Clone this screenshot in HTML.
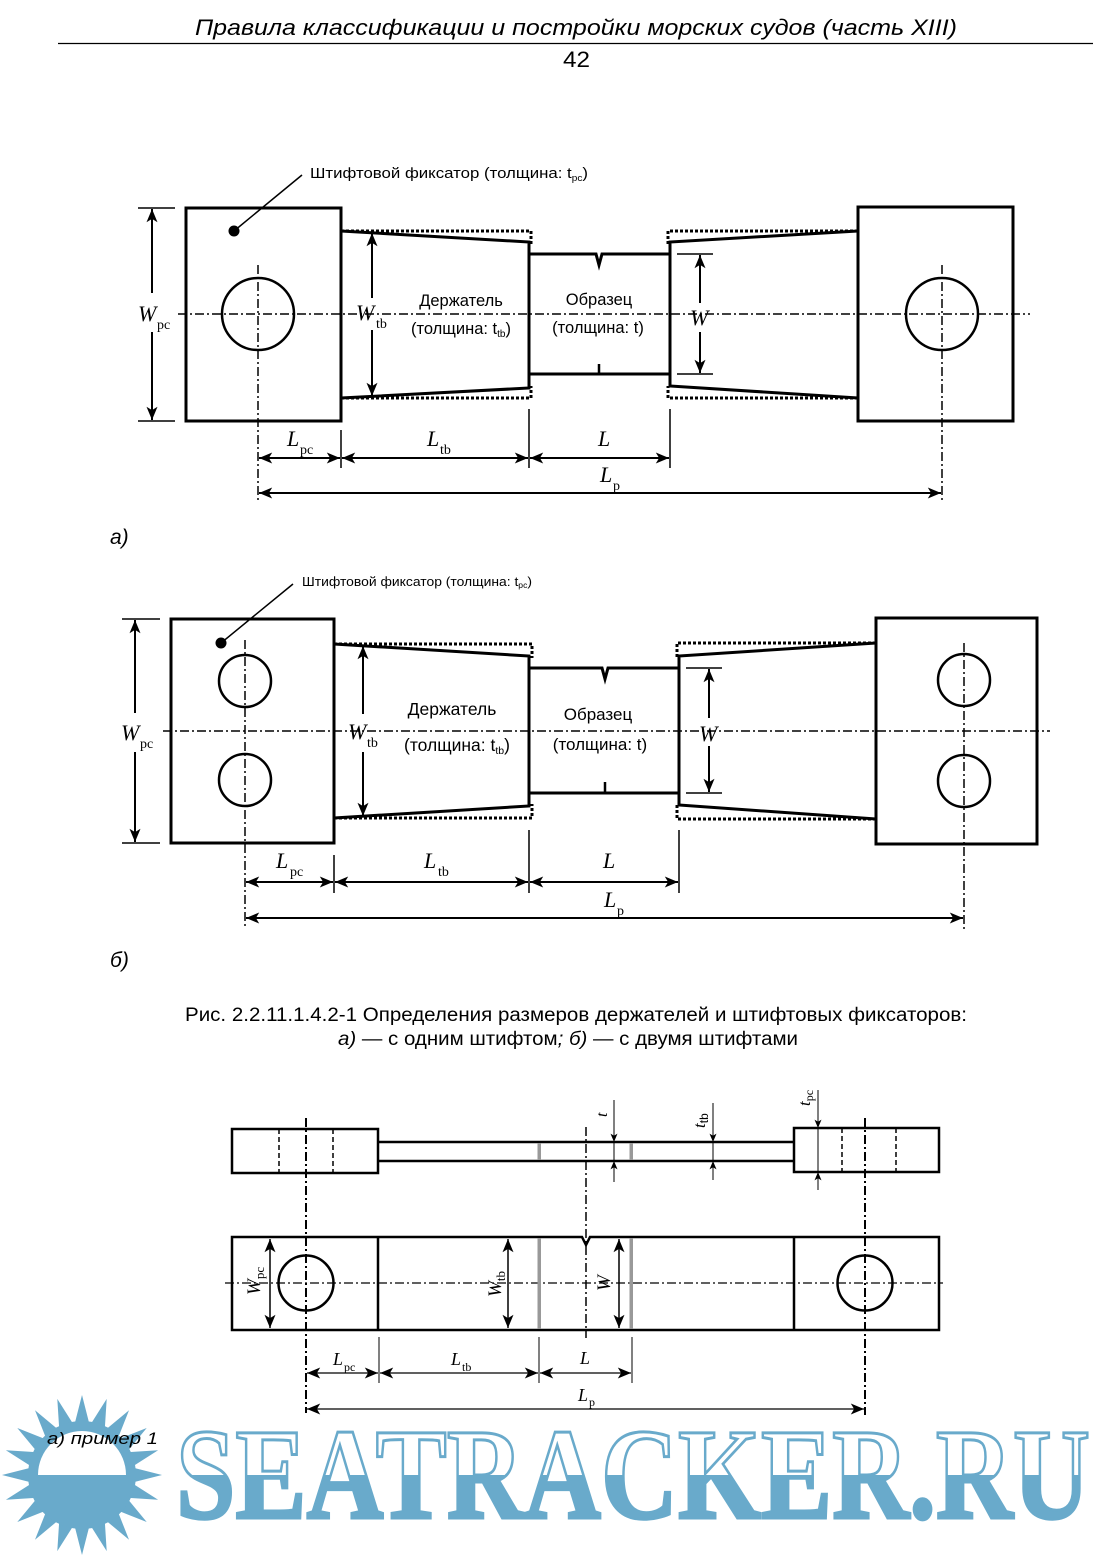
<!DOCTYPE html>
<html><head><meta charset="utf-8"><style>
html,body{margin:0;padding:0;background:#fff}
svg{display:block}
.s{font-family:"Liberation Sans","Noto Sans CJK SC",sans-serif}
.m{font-family:"Liberation Serif","Noto Serif CJK SC",serif;font-style:italic}
.r{font-family:"Liberation Serif","Noto Serif CJK SC",serif;font-style:normal}
</style></head><body>
<svg width="1108" height="1556" viewBox="0 0 1108 1556" xmlns="http://www.w3.org/2000/svg">
<defs>
<marker id="a" viewBox="0 0 12 10" refX="12" refY="5" markerWidth="14" markerHeight="11" markerUnits="userSpaceOnUse" orient="auto-start-reverse"><path d="M0,0 L12,5 L0,10 L3,5 Z" fill="#000"/></marker>
<marker id="b" viewBox="0 0 12 10" refX="12" refY="5" markerWidth="9" markerHeight="7" markerUnits="userSpaceOnUse" orient="auto-start-reverse"><path d="M0,0 L12,5 L0,10 L3,5 Z" fill="#000"/></marker>
<linearGradient id="wg" gradientUnits="userSpaceOnUse" x1="0" y1="1432" x2="0" y2="1518"><stop offset="0.5" stop-color="#fff"/><stop offset="0.5" stop-color="#69aacb"/></linearGradient>
</defs>
<rect width="1108" height="1556" fill="#fff"/>

<!-- header -->
<text class="s" x="195" y="35" font-size="22" font-style="italic" textLength="762" lengthAdjust="spacingAndGlyphs">Правила классификации и постройки морских судов (часть XIII)</text>
<line x1="58" y1="43.5" x2="1093" y2="43.5" stroke="#000" stroke-width="1.2"/>
<text class="s" x="563" y="67" font-size="22" textLength="27" lengthAdjust="spacingAndGlyphs">42</text>

<!-- ============ Diagram a ============ -->
<g fill="none" stroke="#000">
<line x1="178" y1="314" x2="1030" y2="314" stroke-width="1.5" stroke-dasharray="9 3 2 3"/>
<line x1="258" y1="265" x2="258" y2="502" stroke-width="1.5" stroke-dasharray="9 3 2 3"/>
<line x1="942" y1="265" x2="942" y2="502" stroke-width="1.5" stroke-dasharray="9 3 2 3"/>
<rect x="186" y="208" width="155" height="213" stroke-width="3"/>
<circle cx="258" cy="314" r="36" stroke-width="2.5"/>
<line x1="234" y1="231" x2="302" y2="175" stroke-width="1.5"/>
<polyline points="341,231 529,242 529,388 341,398" stroke-width="3"/>
<polyline points="341,231 531,231 531,244" stroke-width="3" stroke-dasharray="3 2"/>
<polyline points="341,398 531,398 531,386" stroke-width="3" stroke-dasharray="3 2"/>
<polyline points="529,254 596,254 599,265 602,254 670,254" stroke-width="3"/>
<line x1="529" y1="374" x2="670" y2="374" stroke-width="3"/>
<line x1="599" y1="364" x2="599" y2="374" stroke-width="2.5"/>
<polyline points="858,231 670,242 670,386 858,398" stroke-width="3"/>
<polyline points="858,231 668,231 668,244" stroke-width="3" stroke-dasharray="3 2"/>
<polyline points="858,398 668,398 668,386" stroke-width="3" stroke-dasharray="3 2"/>
<rect x="858" y="207" width="155" height="214" stroke-width="3"/>
<circle cx="942" cy="314" r="36" stroke-width="2.5"/>
<!-- W_pc -->
<line x1="138" y1="208" x2="175" y2="208" stroke-width="1.5"/>
<line x1="138" y1="421" x2="175" y2="421" stroke-width="1.5"/>
<line x1="152" y1="293" x2="152" y2="209" stroke-width="2" marker-end="url(#a)"/>
<line x1="152" y1="332" x2="152" y2="420" stroke-width="2" marker-end="url(#a)"/>
<!-- W_tb -->
<line x1="372" y1="298" x2="372" y2="233" stroke-width="2" marker-end="url(#a)"/>
<line x1="372" y1="330" x2="372" y2="396" stroke-width="2" marker-end="url(#a)"/>
<!-- W -->
<line x1="677" y1="254" x2="713" y2="254" stroke-width="1.5"/>
<line x1="677" y1="374" x2="713" y2="374" stroke-width="1.5"/>
<line x1="700" y1="303" x2="700" y2="255" stroke-width="2" marker-end="url(#a)"/>
<line x1="700" y1="332" x2="700" y2="373" stroke-width="2" marker-end="url(#a)"/>
<!-- bottom dims -->
<line x1="341" y1="430" x2="341" y2="468" stroke-width="1.5"/>
<line x1="529" y1="409" x2="529" y2="468" stroke-width="1.5"/>
<line x1="670" y1="409" x2="670" y2="468" stroke-width="1.5"/>
<line x1="259" y1="458" x2="340" y2="458" stroke-width="2" marker-start="url(#a)" marker-end="url(#a)"/>
<line x1="342" y1="458" x2="528" y2="458" stroke-width="2" marker-start="url(#a)" marker-end="url(#a)"/>
<line x1="530" y1="458" x2="669" y2="458" stroke-width="2" marker-start="url(#a)" marker-end="url(#a)"/>
<line x1="259" y1="493" x2="941" y2="493" stroke-width="2" marker-start="url(#a)" marker-end="url(#a)"/>
</g>
<circle cx="234" cy="231" r="5.5" fill="#000"/>
<text class="s" x="310" y="178" font-size="15" textLength="278" lengthAdjust="spacingAndGlyphs">Штифтовой фиксатор (толщина: t<tspan font-size="9" dy="3">pc</tspan><tspan dy="-3">)</tspan></text>
<text class="s" x="461" y="306" font-size="16.5" text-anchor="middle">Держатель</text>
<text class="s" x="461" y="334" font-size="16.5" text-anchor="middle">(толщина: t<tspan font-size="10" dy="3">tb</tspan><tspan dy="-3">)</tspan></text>
<text class="s" x="599" y="305" font-size="16.5" text-anchor="middle">Образец</text>
<text class="s" x="598" y="333" font-size="16.5" text-anchor="middle">(толщина: t)</text>
<text class="m" x="138" y="321" font-size="22">W</text><text class="r" x="157" y="329" font-size="14">pc</text>
<text class="m" x="356" y="320" font-size="22">W</text><text class="r" x="376" y="328" font-size="14">tb</text>
<text class="m" x="690" y="325" font-size="22">W</text>
<text class="m" x="287" y="446" font-size="22">L</text><text class="r" x="300" y="454" font-size="14">pc</text>
<text class="m" x="427" y="446" font-size="22">L</text><text class="r" x="440" y="454" font-size="14">tb</text>
<text class="m" x="598" y="446" font-size="22">L</text>
<text class="m" x="600" y="482" font-size="22">L</text><text class="r" x="613" y="490" font-size="14">p</text>
<text class="s" x="110" y="544" font-size="21" font-style="italic">а)</text>

<!-- ============ Diagram b ============ -->
<g fill="none" stroke="#000">
<line x1="163" y1="731" x2="1050" y2="731" stroke-width="1.5" stroke-dasharray="9 3 2 3"/>
<line x1="245" y1="640" x2="245" y2="928" stroke-width="1.5" stroke-dasharray="9 3 2 3"/>
<line x1="964" y1="643" x2="964" y2="930" stroke-width="1.5" stroke-dasharray="9 3 2 3"/>
<rect x="171" y="619" width="163" height="224" stroke-width="3"/>
<circle cx="245" cy="681" r="26" stroke-width="2.5"/>
<circle cx="245" cy="780" r="26" stroke-width="2.5"/>
<line x1="221" y1="643" x2="293" y2="584" stroke-width="1.5"/>
<polyline points="334,644 529,656 529,806 334,818" stroke-width="3"/>
<polyline points="334,644 532,644 532,658" stroke-width="3" stroke-dasharray="3 2"/>
<polyline points="334,818 532,818 532,804" stroke-width="3" stroke-dasharray="3 2"/>
<polyline points="529,668 602,668 605,679 608,668 679,668" stroke-width="3"/>
<line x1="529" y1="793" x2="679" y2="793" stroke-width="3"/>
<line x1="605" y1="782" x2="605" y2="793" stroke-width="2.5"/>
<polyline points="876,643 679,656 679,805 876,819" stroke-width="3"/>
<polyline points="876,643 677,643 677,658" stroke-width="3" stroke-dasharray="3 2"/>
<polyline points="876,819 677,819 677,804" stroke-width="3" stroke-dasharray="3 2"/>
<rect x="876" y="618" width="161" height="226" stroke-width="3"/>
<circle cx="964" cy="680" r="26" stroke-width="2.5"/>
<circle cx="964" cy="781" r="26" stroke-width="2.5"/>
<!-- W_pc -->
<line x1="122" y1="619" x2="160" y2="619" stroke-width="1.5"/>
<line x1="122" y1="843" x2="160" y2="843" stroke-width="1.5"/>
<line x1="135" y1="713" x2="135" y2="620" stroke-width="2" marker-end="url(#a)"/>
<line x1="135" y1="752" x2="135" y2="842" stroke-width="2" marker-end="url(#a)"/>
<!-- W_tb -->
<line x1="363" y1="714" x2="363" y2="646" stroke-width="2" marker-end="url(#a)"/>
<line x1="363" y1="752" x2="363" y2="816" stroke-width="2" marker-end="url(#a)"/>
<!-- W -->
<line x1="686" y1="668" x2="722" y2="668" stroke-width="1.5"/>
<line x1="686" y1="793" x2="722" y2="793" stroke-width="1.5"/>
<line x1="709" y1="718" x2="709" y2="669" stroke-width="2" marker-end="url(#a)"/>
<line x1="709" y1="746" x2="709" y2="792" stroke-width="2" marker-end="url(#a)"/>
<!-- bottom dims -->
<line x1="334" y1="855" x2="334" y2="893" stroke-width="1.5"/>
<line x1="529" y1="830" x2="529" y2="893" stroke-width="1.5"/>
<line x1="679" y1="830" x2="679" y2="893" stroke-width="1.5"/>
<line x1="246" y1="882" x2="333" y2="882" stroke-width="2" marker-start="url(#a)" marker-end="url(#a)"/>
<line x1="335" y1="882" x2="528" y2="882" stroke-width="2" marker-start="url(#a)" marker-end="url(#a)"/>
<line x1="530" y1="882" x2="678" y2="882" stroke-width="2" marker-start="url(#a)" marker-end="url(#a)"/>
<line x1="246" y1="918" x2="963" y2="918" stroke-width="2" marker-start="url(#a)" marker-end="url(#a)"/>
</g>
<circle cx="221" cy="643" r="5.5" fill="#000"/>
<text class="s" x="302" y="586" font-size="13" textLength="230" lengthAdjust="spacingAndGlyphs">Штифтовой фиксатор (толщина: t<tspan font-size="8" dy="2">pc</tspan><tspan dy="-2">)</tspan></text>
<text class="s" x="452" y="715" font-size="17.5" text-anchor="middle">Держатель</text>
<text class="s" x="457" y="751" font-size="17.5" text-anchor="middle">(толщина: t<tspan font-size="10.5" dy="3">tb</tspan><tspan dy="-3">)</tspan></text>
<text class="s" x="598" y="720" font-size="17" text-anchor="middle">Образец</text>
<text class="s" x="600" y="750" font-size="17" text-anchor="middle">(толщина: t)</text>
<text class="m" x="121" y="740" font-size="22">W</text><text class="r" x="140" y="748" font-size="14">pc</text>
<text class="m" x="348" y="739" font-size="22">W</text><text class="r" x="367" y="747" font-size="14">tb</text>
<text class="m" x="699" y="741" font-size="22">W</text>
<text class="m" x="276" y="868" font-size="22">L</text><text class="r" x="290" y="876" font-size="14">pc</text>
<text class="m" x="424" y="868" font-size="22">L</text><text class="r" x="438" y="876" font-size="14">tb</text>
<text class="m" x="603" y="868" font-size="22">L</text>
<text class="m" x="604" y="907" font-size="22">L</text><text class="r" x="617" y="915" font-size="14">p</text>
<text class="s" x="110" y="967" font-size="21" font-style="italic">б)</text>

<!-- caption -->
<text class="s" x="185" y="1021" font-size="19" textLength="782" lengthAdjust="spacingAndGlyphs">Рис. 2.2.11.1.4.2-1 Определения размеров держателей и штифтовых фиксаторов:</text>
<text class="s" x="338" y="1045" font-size="19" textLength="460" lengthAdjust="spacingAndGlyphs"><tspan font-style="italic">а)</tspan> — с одним штифтом<tspan font-style="italic">;</tspan> <tspan font-style="italic">б)</tspan> — с двумя штифтами</text>

<!-- ============ Diagram c ============ -->
<g fill="none" stroke="#000">
<!-- top view -->
<rect x="232" y="1129" width="146" height="44" stroke-width="2.5"/>
<line x1="279" y1="1129" x2="279" y2="1173" stroke-width="1.5" stroke-dasharray="5 3"/>
<line x1="333" y1="1129" x2="333" y2="1173" stroke-width="1.5" stroke-dasharray="5 3"/>
<line x1="378" y1="1142" x2="794" y2="1142" stroke-width="2.5"/>
<line x1="378" y1="1161" x2="794" y2="1161" stroke-width="2.5"/>
<rect x="794" y="1128" width="145" height="44" stroke-width="2.5"/>
<line x1="842" y1="1128" x2="842" y2="1172" stroke-width="1.5" stroke-dasharray="5 3"/>
<line x1="896" y1="1128" x2="896" y2="1172" stroke-width="1.5" stroke-dasharray="5 3"/>
<line x1="306" y1="1118" x2="306" y2="1413" stroke-width="2" stroke-dasharray="9 3 2 3"/>
<line x1="865" y1="1118" x2="865" y2="1415" stroke-width="2" stroke-dasharray="9 3 2 3"/>
<line x1="586" y1="1127" x2="586" y2="1338" stroke-width="1.5" stroke-dasharray="9 3 2 3"/>
<!-- t dims -->
<line x1="614" y1="1100" x2="614" y2="1182" stroke-width="1"/>
<line x1="614" y1="1120" x2="614" y2="1142" stroke-width="1" marker-end="url(#b)"/>
<line x1="614" y1="1175" x2="614" y2="1161" stroke-width="1" marker-end="url(#b)"/>
<line x1="713" y1="1103" x2="713" y2="1180" stroke-width="1"/>
<line x1="713" y1="1120" x2="713" y2="1142" stroke-width="1" marker-end="url(#b)"/>
<line x1="713" y1="1175" x2="713" y2="1161" stroke-width="1" marker-end="url(#b)"/>
<line x1="818" y1="1090" x2="818" y2="1190" stroke-width="1"/>
<line x1="818" y1="1108" x2="818" y2="1128" stroke-width="1" marker-end="url(#b)"/>
<line x1="818" y1="1186" x2="818" y2="1172" stroke-width="1" marker-end="url(#b)"/>
<!-- bottom view -->
<path d="M232,1237 H582 L586,1245 L590,1237 H939 V1330 H232 Z" stroke-width="2.5"/>
<line x1="378" y1="1237" x2="378" y2="1330" stroke-width="2.5"/>
<line x1="794" y1="1237" x2="794" y2="1330" stroke-width="2.5"/>
<line x1="225" y1="1283" x2="943" y2="1283" stroke-width="1.2" stroke-dasharray="9 3 2 3"/>
<circle cx="306" cy="1283" r="27.5" stroke-width="2.5"/>
<circle cx="865" cy="1283" r="27.5" stroke-width="2.5"/>
<line x1="270" y1="1239" x2="270" y2="1328" stroke-width="1.5" marker-start="url(#a)" marker-end="url(#a)"/>
<line x1="508" y1="1239" x2="508" y2="1328" stroke-width="1.5" marker-start="url(#a)" marker-end="url(#a)"/>
<line x1="619" y1="1239" x2="619" y2="1328" stroke-width="1.5" marker-start="url(#a)" marker-end="url(#a)"/>
<!-- dims -->
<line x1="379" y1="1337" x2="379" y2="1383" stroke-width="1"/>
<line x1="539" y1="1337" x2="539" y2="1383" stroke-width="1"/>
<line x1="632" y1="1337" x2="632" y2="1383" stroke-width="1"/>
<line x1="307" y1="1373" x2="378" y2="1373" stroke-width="1.2" marker-start="url(#a)" marker-end="url(#a)"/>
<line x1="380" y1="1373" x2="538" y2="1373" stroke-width="1.2" marker-start="url(#a)" marker-end="url(#a)"/>
<line x1="540" y1="1373" x2="631" y2="1373" stroke-width="1.2" marker-start="url(#a)" marker-end="url(#a)"/>
<line x1="307" y1="1409" x2="864" y2="1409" stroke-width="1.2" marker-start="url(#a)" marker-end="url(#a)"/>
</g>
<rect x="537.5" y="1143" width="3.5" height="17" fill="#999"/>
<rect x="629.5" y="1143" width="3.5" height="17" fill="#999"/>
<rect x="537.5" y="1238" width="3.5" height="91" fill="#999"/>
<rect x="629.5" y="1238" width="3.5" height="91" fill="#999"/>
<text class="m" font-size="16" transform="translate(607,1117) rotate(-90)">t</text>
<text transform="translate(705,1128) rotate(-90)"><tspan class="m" font-size="17">t</tspan><tspan class="s" font-size="12" dy="3">tb</tspan></text>
<text transform="translate(810,1106) rotate(-90)"><tspan class="m" font-size="17">t</tspan><tspan class="r" font-size="12" dy="3">pc</tspan></text>
<text transform="translate(260,1295) rotate(-90)"><tspan class="m" font-size="19">W</tspan><tspan class="r" font-size="13" dy="4">pc</tspan></text>
<text transform="translate(501,1297) rotate(-90)"><tspan class="m" font-size="19">W</tspan><tspan class="r" font-size="13" dy="4">tb</tspan></text>
<text class="m" font-size="19" transform="translate(610,1291) rotate(-90)">W</text>
<text class="m" x="333" y="1365" font-size="18">L</text><text class="r" x="344" y="1371" font-size="12">pc</text>
<text class="m" x="451" y="1365" font-size="18">L</text><text class="r" x="462" y="1371" font-size="12">tb</text>
<text class="m" x="580" y="1364" font-size="18">L</text>
<text class="m" x="578" y="1401" font-size="18">L</text><text class="r" x="589" y="1406" font-size="12">p</text>

<!-- watermark -->
<polygon fill="#69aacb" points="82,1395 89.8,1425.6 106.7,1398.9 104.7,1430.5 129,1410.3 117.4,1439.6 146.7,1428 126.6,1452.3 158.1,1450.3 131.4,1467.2 162,1475 131.4,1482.8 158.1,1499.7 126.6,1497.7 146.7,1522 117.4,1510.4 129,1539.7 104.7,1519.5 106.7,1551.1 89.8,1524.4 82,1555 74.2,1524.4 57.3,1551.1 59.3,1519.5 35,1539.7 46.6,1510.4 17.3,1522 37.4,1497.7 5.9,1499.7 32.6,1482.8 2,1475 32.6,1467.2 5.9,1450.3 37.4,1452.3 17.3,1428 46.6,1439.6 35,1410.3 59.3,1430.5 57.3,1398.9 74.2,1425.6"/>
<circle cx="82" cy="1475" r="54" fill="#69aacb"/>
<path d="M38,1475 A44,44 0 0 1 126,1475 Z" fill="#fff"/>
<text x="176" y="1518" font-family="Liberation Serif, serif" font-weight="bold" font-size="130" textLength="914" lengthAdjust="spacingAndGlyphs" fill="url(#wg)" stroke="#69aacb" stroke-width="3">SEATRACKER.RU</text>
<text class="s" x="47" y="1444" font-size="17" font-style="italic" textLength="111" lengthAdjust="spacingAndGlyphs">а) пример 1</text>
</svg>
</body></html>
